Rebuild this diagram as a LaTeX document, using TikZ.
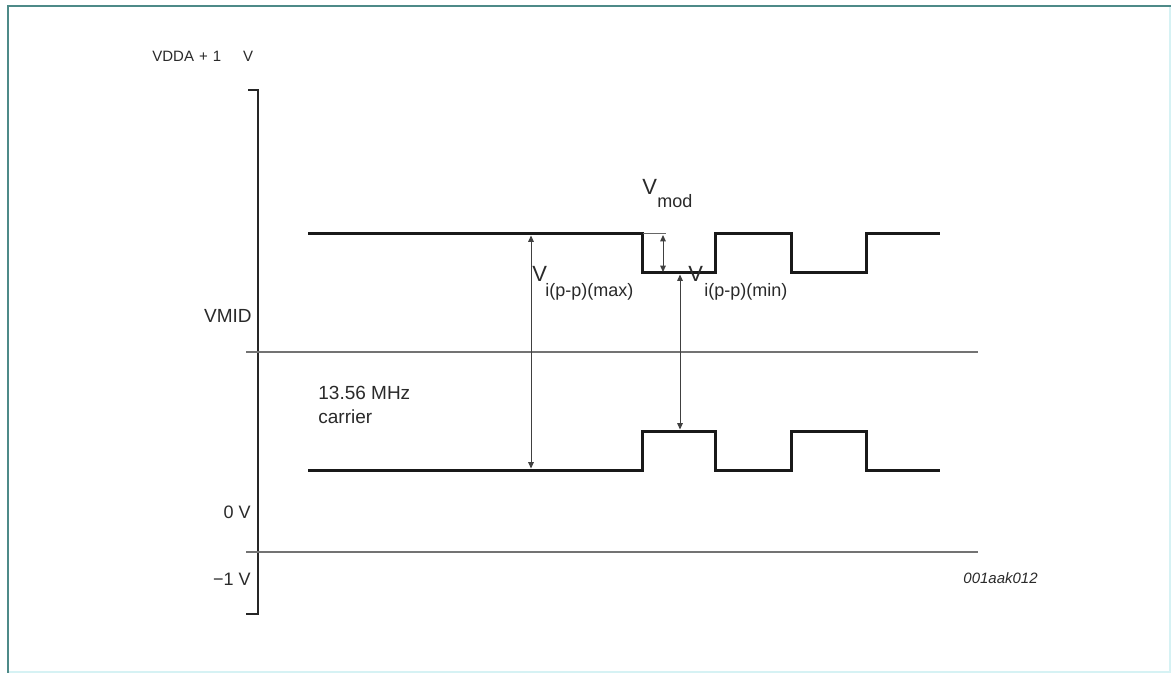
\documentclass[tikz,border=0pt]{standalone}
\usepackage{fontspec}
\setmainfont{Liberation Sans}
\usetikzlibrary{arrows.meta}
\definecolor{frameteal}{HTML}{4E8A88}
\definecolor{framelight}{HTML}{D6F2F4}
\definecolor{txt}{HTML}{2A2A2A}
\begin{document}
\begin{tikzpicture}[x=0.5pt,y=-0.5pt,
  wave/.style={line width=1.5pt, line join=miter, draw=black!90},
  refline/.style={line width=0.9pt, draw=black!55},
  axisline/.style={line width=1pt, draw=black!85},
  dimarrow/.style={line width=0.5pt, draw=black!75,
    {Triangle[length=3.2pt,width=2.8pt]}-{Triangle[length=3.2pt,width=2.8pt]}},
  lbl/.style={inner sep=0pt, text=txt}]
\useasboundingbox (0,0) rectangle (1172,673);
\fill[white] (0,0) rectangle (1172,673);
% frame
\draw[framelight, line width=1pt] (1170,6) -- (1170,672) -- (8,672);
\draw[frameteal, line width=1.4pt] (8,673) -- (8,6) -- (1171,6);
% axis
\coordinate (axtop) at (248,90);
\coordinate (axbot) at (246,614);
\draw[axisline] (axtop) -- (258,90) -- (258,614) -- (axbot);
% reference lines
\coordinate (vmidL) at (246,352);
\coordinate (vmidR) at (978,352);
\coordinate (zeroL) at (246,552);
\coordinate (zeroR) at (978,552);
\draw[refline] (vmidL) -- (vmidR);
\draw[refline] (zeroL) -- (zeroR);
% waveforms
\draw[wave] (308,234) -- (642,234) -- (642,273) -- (715,273) -- (715,234) -- (791,234)
  -- (791,273) -- (866,273) -- (866,234) -- (940,234);
\draw[wave] (308,470) -- (642,470) -- (642,431) -- (715,431) -- (715,470) -- (791,470)
  -- (791,431) -- (866,431) -- (866,470) -- (940,470);
% dimension arrows
\coordinate (maxT) at (531,235.5);
\coordinate (maxB) at (531,468.5);
\draw[dimarrow] (maxT) -- (maxB);
\coordinate (modL) at (643,233.5);
\coordinate (modR) at (666,233.5);
\draw[line width=0.5pt, draw=black!60] (modL) -- (modR);
\coordinate (modT) at (663,235);
\coordinate (modB) at (663,272);
\draw[dimarrow] (modT) -- (modB);
\coordinate (minT) at (680,274.5);
\coordinate (minB) at (680,429.5);
\draw[dimarrow] (minT) -- (minB);
% labels
\node[lbl, anchor=base west, font=\fontsize{7.5}{9}\selectfont] (vdda) at (152,62)
  {VDDA\hspace{2.5pt}+\hspace{2.5pt}1\hspace{11pt}V};
\node[lbl, anchor=base east, font=\fontsize{9.5}{11}\selectfont] (vmid) at (252,323) {VMID};
\node[lbl, anchor=base west, font=\fontsize{9.5}{11}\selectfont] (car1) at (318,400) {13.56 MHz};
\node[lbl, anchor=base west, font=\fontsize{9.5}{11}\selectfont] (car2) at (318,423) {carrier};
\node[lbl, anchor=base east, font=\fontsize{9}{11}\selectfont] (zerov) at (251,518) {0 V};
\node[lbl, anchor=base east, font=\fontsize{9}{11}\selectfont] (minusv) at (251,585) {−1 V};
\node[lbl, anchor=base west, font=\fontsize{7.5}{9}\itshape] (code) at (963,583) {001aak012};
\node[lbl, anchor=base west, font=\fontsize{11}{13}\selectfont] (vmodV) at (642,195) {V};
\node[lbl, anchor=base west, font=\fontsize{9}{11}\selectfont] (vmodS) at (657,208) {mod};
\node[lbl, anchor=base west, font=\fontsize{11}{13}\selectfont] (vmaxV) at (532,282) {V};
\node[lbl, anchor=base west, font=\fontsize{9}{11}\selectfont] (vmaxS) at (545,297) {i(p-p)(max)};
\node[lbl, anchor=base west, font=\fontsize{11}{13}\selectfont] (vminV) at (688,282) {V};
\node[lbl, anchor=base west, font=\fontsize{9}{11}\selectfont] (vminS) at (704,297) {i(p-p)(min)};
\end{tikzpicture}
\end{document}
